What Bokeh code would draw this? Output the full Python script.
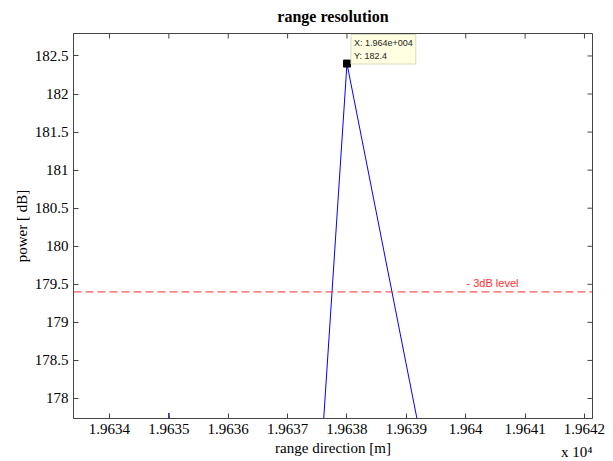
import math
from bokeh.plotting import figure
from bokeh.models import FixedTicker, Span, Label, Range1d, Title
from bokeh.embed import file_html
from bokeh.resources import INLINE

# ---- data ----
range_m = [19633, 19634, 19635, 19636, 19637, 19638, 19639, 19640, 19641, 19642, 19643]
power_db = [165.0, 168.2, 177.81, 170.3, 170.5, 182.4, 178.44, 174.5, 169.0, 172.6, 166.0]

peak_x = [19638]
peak_y = [182.4]
level_db = 179.4
level_text = "- 3dB level"
datatip_text = "X: 1.964e+004\nY: 182.4"
exponent_text = "x 10\u2074"

x_ticks = [19634, 19635, 19636, 19637, 19638, 19639, 19640, 19641, 19642]
x_tick_labels = ["1.9634", "1.9635", "1.9636", "1.9637", "1.9638", "1.9639", "1.964", "1.9641", "1.9642"]
y_ticks = [178.0, 178.5, 179.0, 179.5, 180.0, 180.5, 181.0, 181.5, 182.0, 182.5]
y_tick_labels = ["178", "178.5", "179", "179.5", "180", "180.5", "181", "181.5", "182", "182.5"]

SERIF = "Liberation Serif"
SANS = "Liberation Sans"
AX = "#444444"

x_lo, x_hi = 19633.394, 19642.135
y_lo, y_hi = 177.737, 182.795

p = figure(width=613, height=461, output_backend="svg", toolbar_location=None,
           x_range=Range1d(x_lo, x_hi), y_range=Range1d(y_lo, y_hi),
           min_border_left=73, min_border_right=21, min_border_top=33, min_border_bottom=43,
           title="range resolution", x_axis_label="range direction [m]", y_axis_label="power [ dB]")

p.title.text_font = SERIF
p.title.text_font_size = "16px"
p.title.text_font_style = "bold"
p.title.align = "center"
p.title.vertical_align = "top"
p.title.text_color = "black"
try:
    p.title.standoff = 13
except Exception:
    pass

p.xgrid.visible = False
p.ygrid.visible = False
p.background_fill_color = "white"
p.border_fill_color = "white"
p.outline_line_color = AX


def style_axis(ax):
    ax.axis_line_color = AX
    ax.major_tick_line_color = AX
    ax.major_tick_in = 5
    ax.major_tick_out = 0
    ax.minor_tick_line_color = None
    ax.major_label_text_font = SERIF
    ax.major_label_text_font_size = "15px"
    ax.major_label_text_color = "black"
    ax.axis_label_text_font = SERIF
    ax.axis_label_text_font_size = "15px"
    ax.axis_label_text_font_style = "normal"
    ax.axis_label_text_color = "black"


xax = p.xaxis[0]
xax.ticker = FixedTicker(ticks=x_ticks)
xax.major_label_overrides = dict(zip(x_ticks, x_tick_labels))
xax.major_label_standoff = 5
xax.axis_label_standoff = 3
style_axis(xax)

yax = p.yaxis[0]
yax.ticker = FixedTicker(ticks=y_ticks)
yax.major_label_overrides = dict(zip(y_ticks, y_tick_labels))
yax.major_label_standoff = 5
yax.axis_label_standoff = 2
style_axis(yax)

# exponent of the x axis, under the axis label at the right
exp_title = Title(text=exponent_text, align="right", vertical_align="top",
                  text_font=SERIF, text_font_size="15px",
                  text_font_style="normal", text_color="black")
try:
    exp_title.standoff = -30
except Exception:
    try:
        exp_title.standoff = 0
    except Exception:
        pass
p.add_layout(exp_title, "below")

# inward ticks on the top and right edges of the box (outer half is clipped by the frame)
p.scatter(x_ticks, [y_hi] * len(x_ticks), marker="dash", angle=math.pi / 2, size=10,
          line_color=AX, line_width=1)
p.scatter([x_hi] * len(y_ticks), y_ticks, marker="dash", size=10,
          line_color=AX, line_width=1)

# data line
p.line(range_m, power_db, line_color="#0000ff", line_width=1)

# -3 dB level
p.add_layout(Span(location=level_db, dimension="width", line_color="#ff3030",
                  line_width=1, line_dash="8 4"))
p.add_layout(Label(x=19640.45, y=level_db, y_offset=3, text=level_text,
                   text_font=SANS, text_font_size="11px", text_color="#ff3030",
                   text_align="center", text_baseline="bottom"))

# data tip (kept inside the plotting box)
p.scatter(peak_x, peak_y, marker="square", size=7, fill_color="black", line_color="black")
p.add_layout(Label(x=peak_x[0], y=y_hi, x_offset=4, y_offset=-1, text=datatip_text,
                   anchor="top_left", padding=3,
                   text_font=SANS, text_font_size="9px", text_color="#222222",
                   text_line_height=1.35,
                   background_fill_color="#ffffe1", border_line_color="#d8d8c0"))

open("out.html", "w").write(file_html(p, INLINE))
